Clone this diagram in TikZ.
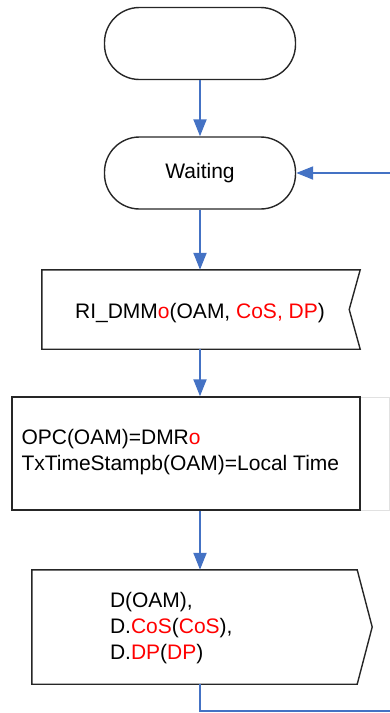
\documentclass[tikz,border=0pt]{standalone}
\usepackage{fontspec}
\setmainfont{Liberation Sans}
\usetikzlibrary{arrows.meta}

\definecolor{flowblue}{RGB}{68,114,196}
\definecolor{hintgray}{RGB}{225,225,225}

\tikzstyle{terminal} = [rectangle, draw=black!85, line width=1.4pt, minimum width=191pt, minimum height=72pt, rounded corners=35pt, text centered]
\tikzstyle{block} = [rectangle, inner sep=0pt]
\tikzstyle{label} = [align=left, inner sep=0pt]
\tikzstyle{outline} = [draw=black!85, line width=1.4pt, line join=miter]
\tikzstyle{arrow} = [draw=flowblue, line width=2pt, -{Triangle[width=13pt,length=17pt]}]
\tikzstyle{line} = [draw=flowblue, line width=2pt]

\newcommand{\red}[1]{\textcolor{red}{#1}}

\begin{document}
\begin{tikzpicture}[x=1pt, y=-1pt, font=\fontsize{21}{26}\selectfont]
    \useasboundingbox (0,0) rectangle (390,713);

    \node[terminal] (start) at (200,43.5) {};
    \node[terminal] (wait) at (200,173) {Waiting};

    % receive
    \node[block, minimum width=318pt, minimum height=79pt] (rx) at (201,309.5) {};
    \draw[outline] (rx.north west) -- (rx.north east) -- ([xshift=-11pt]rx.east) -- (rx.south east) -- (rx.south west) -- cycle;
    \node[label] (rxtext) at (200,313) {RI\_DMM\red{o}(OAM, \red{CoS, DP})};

    % task
    \draw[hintgray, line width=1pt] (360,397) rectangle (389,510);
    \node[block, draw=black!85, line width=1.4pt, fill=white, minimum width=348pt, minimum height=113pt] (proc) at (186,453.5) {};
    \node[label, anchor=west] (proctext) at ([xshift=10pt,yshift=1pt]proc.west) {OPC(OAM)=DMR\red{o}\\TxTimeStampb(OAM)=Local Time};

    % send
    \node[block, minimum width=325pt, minimum height=114pt] (tx) at (194.5,627) {};
    \draw[outline] (tx.north west) -- (tx.north east) -- ([xshift=15pt]tx.east) -- (tx.south east) -- (tx.south west) -- cycle;
    \node[label, anchor=west] (txtext) at ([xshift=78pt,yshift=-1pt]tx.west) {D(OAM),\\D.\red{CoS}(\red{CoS}),\\D.\red{DP}(\red{DP})};

    % lines
    \coordinate (loopin) at (390,173);
    \coordinate (down) at (200,711);
    \coordinate (loopout) at (390,711);
    \draw [arrow] (start.south) to (wait.north);
    \draw [arrow] (wait.south) to (wait.south |- rx.north);
    \draw [arrow] (wait.south |- rx.south) to (wait.south |- proc.north);
    \draw [arrow] (wait.south |- proc.south) to (wait.south |- tx.north);
    \draw [arrow] (loopin) to (wait.east);
    \draw [line] (wait.south |- tx.south) -- (down) -- (loopout);
\end{tikzpicture}
\end{document}
